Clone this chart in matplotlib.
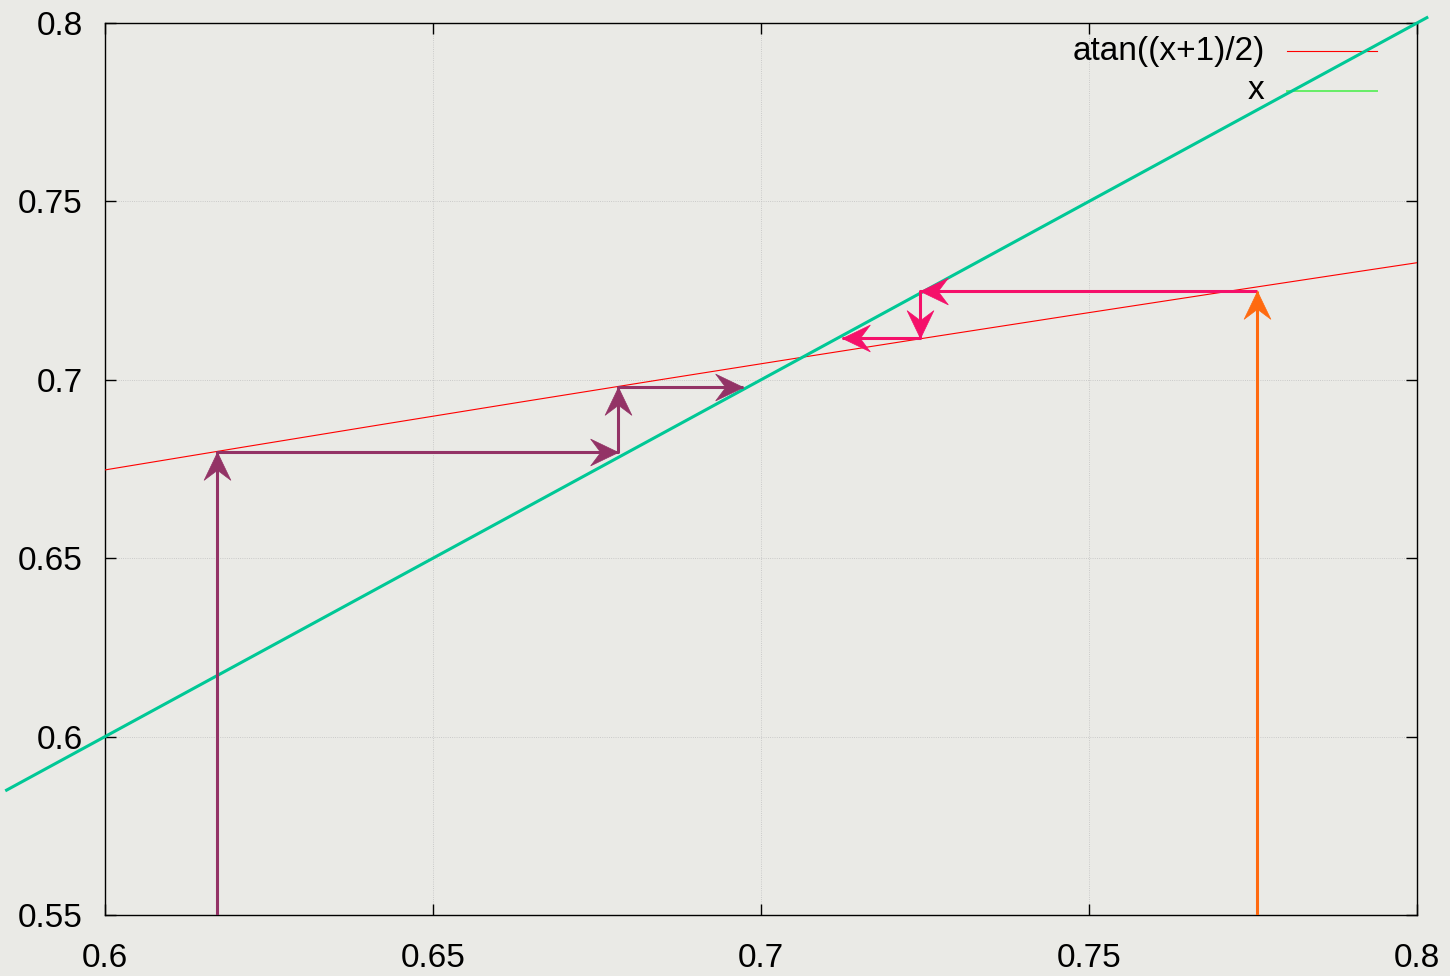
import numpy as np
import matplotlib.pyplot as plt
from matplotlib.path import Path
from matplotlib.markers import MarkerStyle
from matplotlib.transforms import Affine2D

plt.rcParams['font.family'] = ['Liberation Sans', 'DejaVu Sans']

# === Axis ranges and ticks ===
x_ticks = [0.6, 0.65, 0.7, 0.75, 0.8]
y_ticks = [0.55, 0.6, 0.65, 0.7, 0.75, 0.8]
x_tick_labels = ['0.6', '0.65', '0.7', '0.75', '0.8']
y_tick_labels = ['0.55', '0.6', '0.65', '0.7', '0.75', '0.8']

# === Cobweb iteration ===
# purple path starting at x0 = 0.617
purple_x = [0.617, 0.617, 0.6782, 0.6782, 0.6973]
purple_y = [0.55, 0.6798, 0.6798, 0.698, 0.698]
# orange start at x0 = 0.7756
orange_x = [0.7756, 0.7756]
orange_y = [0.55, 0.7249]
# pink path continuing from the orange arrow
pink_x = [0.7756, 0.7242, 0.7242, 0.7123]
pink_y = [0.7249, 0.7249, 0.7117, 0.7117]
# long diagonal y = x drawn past the frame
diag_x = [0.585, 0.8015]
diag_y = [0.585, 0.8015]

bg = '#eaeae6'
fig = plt.figure(figsize=(14.5, 9.76), dpi=100, facecolor=bg)
ax = fig.add_axes([105 / 1450, 61 / 976, 1312 / 1450, 892 / 976])
ax.set_facecolor(bg)

# functions
xs = np.linspace(0.6, 0.8, 200)
ax.plot(xs, np.arctan((xs + 1) / 2), color='#ff0000', lw=0.8, zorder=3)
ax.plot(xs, xs, color='#66ee66', lw=1.2, zorder=3)

# teal diagonal, not clipped
ax.plot(diag_x, diag_y, color='#00c896', lw=2.2, zorder=4, clip_on=False)

# gnuplot-like notched arrow head, tip at origin pointing right
head = Path([(0, 0), (-25, 12), (-16, 0), (-25, -12), (0, 0)],
            [Path.MOVETO, Path.LINETO, Path.LINETO, Path.LINETO, Path.CLOSEPOLY])


def arrows(xv, yv, color):
    ax.plot(xv, yv, color=color, lw=2.2, zorder=5, solid_capstyle='butt')
    for i in range(len(xv) - 1):
        dx = xv[i + 1] - xv[i]
        dy = yv[i + 1] - yv[i]
        if abs(dx) > abs(dy):
            ang = 0 if dx > 0 else 180
        else:
            ang = 90 if dy > 0 else 270
        m = MarkerStyle(head, transform=Affine2D().rotate_deg(ang))
        ax.plot([xv[i + 1]], [yv[i + 1]], marker=m, ms=40, color=color,
                mec=color, mew=0.5, ls='none', zorder=6)


arrows(purple_x, purple_y, '#933366')
arrows(orange_x, orange_y, '#ff6a10')
arrows(pink_x, pink_y, '#f5106a')

ax.set_xlim(0.6, 0.8)
ax.set_ylim(0.55, 0.8)
ax.set_xticks(x_ticks)
ax.set_xticklabels(x_tick_labels)
ax.set_yticks(y_ticks)
ax.set_yticklabels(y_tick_labels)
ax.tick_params(direction='in', length=8, width=1, top=True, right=True,
               labelsize=24)
ax.tick_params(axis='x', pad=20)
ax.tick_params(axis='y', pad=16)
ax.grid(True, color='#c0c0c0', lw=0.6, ls=':')
for s in ax.spines.values():
    s.set_linewidth(1)

# === Legend, gnuplot style (text right aligned, sample after) ===
ax.text(0.884, 0.9686, 'atan((x+1)/2)', transform=ax.transAxes,
        ha='right', va='center', fontsize=24)
ax.plot([0.901, 0.9695], [0.9686, 0.9686], transform=ax.transAxes,
        color='#ff0000', lw=0.8)
ax.text(0.884, 0.9238, 'x', transform=ax.transAxes,
        ha='right', va='center', fontsize=24)
ax.plot([0.901, 0.9695], [0.9238, 0.9238], transform=ax.transAxes,
        color='#66ee66', lw=1.4)

fig.savefig('out.png', dpi=100, facecolor=bg)
